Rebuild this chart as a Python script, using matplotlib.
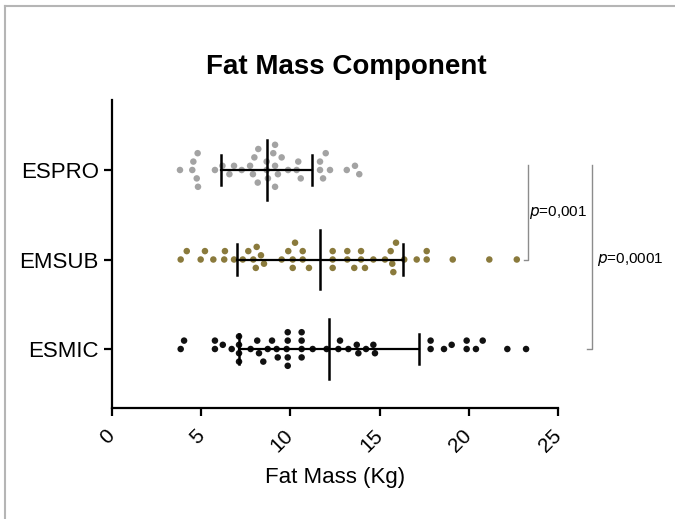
import matplotlib
matplotlib.use("Agg")
import matplotlib.pyplot as plt
from matplotlib.lines import Line2D
import numpy as np

plt.rcParams['font.family'] = ['Liberation Sans', 'DejaVu Sans']

# groups, bottom to top
groups = ["ESMIC", "EMSUB", "ESPRO"]
colors = ["#111111", "#8a7a3c", "#a3a3a3"]

# individual values (Kg)
esmic = [3.85, 4.04, 5.77, 5.77, 6.21, 6.71, 7.12, 7.12, 7.12, 7.12, 7.77, 8.14,
         8.24, 8.48, 8.73, 8.97, 9.23, 9.29, 9.79, 9.85, 9.85, 9.85, 9.85, 10.63,
         10.63, 10.63, 10.63, 11.25, 12.03, 12.69, 12.78, 13.25, 13.72, 13.81,
         14.24, 14.65, 14.74, 17.86, 17.86, 18.61, 19.04, 19.88, 19.88, 20.40,
         20.78, 22.16, 23.21]
emsub = [3.85, 4.19, 4.97, 5.21, 5.68, 6.29, 6.33, 6.84, 7.33, 7.64, 7.92, 8.06,
         8.11, 8.35, 8.52, 9.51, 9.88, 10.13, 10.13, 10.26, 10.69, 10.69, 11.04,
         12.37, 12.37, 12.37, 13.19, 13.19, 13.58, 13.96, 13.96, 14.18, 14.65,
         15.30, 15.62, 15.71, 15.77, 15.92, 16.38, 17.08, 17.64, 17.64, 19.10,
         21.15, 22.69]
espro = [3.81, 4.50, 4.56, 4.75, 4.80, 4.82, 5.77, 6.19, 6.58, 6.84, 7.27, 7.74,
         7.90, 7.98, 8.17, 8.20, 8.67, 8.67, 8.74, 9.04, 9.14, 9.14, 9.14, 9.30,
         9.51, 9.87, 10.35, 10.44, 10.58, 11.66, 11.66, 11.83, 11.98, 12.22,
         13.16, 13.62, 13.86]

# mean and SD shown on the plot
means = [12.16, 11.66, 8.67]
sds = [5.03, 4.63, 2.55]

pvalues = ["=0,001", "=0,0001"]


def swarm(vals, px_x, px_y, d=8.4):
    # simple beeswarm: place sorted points at the nearest free vertical offset
    order = np.argsort(vals)
    placed = []
    offs = np.zeros(len(vals))
    step = d * 0.5
    for i in order:
        x = vals[i] * px_x
        k = 0
        while True:
            cands = [0.0] if k == 0 else [k * step, -k * step]
            ok = None
            for y in cands:
                if all((x - px) ** 2 + (y - py) ** 2 >= d * d for px, py in placed):
                    ok = y
                    break
            if ok is not None:
                placed.append((x, ok))
                offs[i] = ok / px_y
                break
            k += 1
    return offs


fig = plt.figure(figsize=(6.75, 5.19), dpi=100)
ax = fig.add_axes([112 / 675, 1 - 408 / 519, 446 / 675, 308 / 519])
ax.set_xlim(0, 25)
ax.set_ylim(-0.659, 2.782)

px_x = 446 / 25
px_y = 308 / (2.782 + 0.659)

for yi, (vals, c) in enumerate(zip([esmic, emsub, espro], colors)):
    off = swarm(vals, px_x, px_y)
    ax.scatter(vals, yi + off, s=22, color=c, edgecolors='none', zorder=2)
    m, s = means[yi], sds[yi]
    ax.plot([m - s, m + s], [yi, yi], color='black', lw=1.6, zorder=3)
    ax.plot([m, m], [yi - 0.33, yi + 0.33], color='black', lw=1.8, zorder=3)
    for e in (m - s, m + s):
        ax.plot([e, e], [yi - 0.17, yi + 0.17], color='black', lw=1.8, zorder=3)

# significance brackets
gray = '#8c8c8c'
ax.plot([23.1, 23.3, 23.3], [1.0, 1.0, 2.06], color=gray, lw=1.0, clip_on=False)
ax.text(23.38, 1.53, r"$\it{p}$" + pvalues[0], fontsize=11, va='center', ha='left')
ax.plot([26.6, 26.9, 26.9], [0.0, 0.0, 2.06], color=gray, lw=1.0, clip_on=False)
ax.text(27.2, 1.0, r"$\it{p}$" + pvalues[1], fontsize=11, va='center', ha='left')

ax.spines['top'].set_visible(False)
ax.spines['right'].set_visible(False)
for sp in ('left', 'bottom'):
    ax.spines[sp].set_linewidth(1.6)

ax.set_yticks(range(3))
ax.set_yticklabels(groups, fontsize=16)
ax.set_xticks(range(0, 26, 5))
ax.set_xticklabels([str(v) for v in range(0, 26, 5)], fontsize=15,
                   rotation=45, ha='right', va='center', rotation_mode='anchor')
ax.tick_params(axis='both', width=1.6, length=6, color='black')
ax.tick_params(axis='x', pad=12)
ax.set_xlabel("Fat Mass (Kg)", fontsize=16, labelpad=8)

fig.text(346 / 675, 1 - 67 / 519, "Fat Mass Component", fontsize=20,
         fontweight='bold', ha='center', va='center')

# outer frame (top and left, as in the source)
fig.add_artist(Line2D([5 / 675, 5 / 675], [0, 1 - 6 / 519], color='#b5b5b5',
                      lw=1.5, transform=fig.transFigure))
fig.add_artist(Line2D([5 / 675, 1], [1 - 6 / 519, 1 - 6 / 519], color='#b5b5b5',
                      lw=1.5, transform=fig.transFigure))

fig.savefig("out.png", dpi=100)
